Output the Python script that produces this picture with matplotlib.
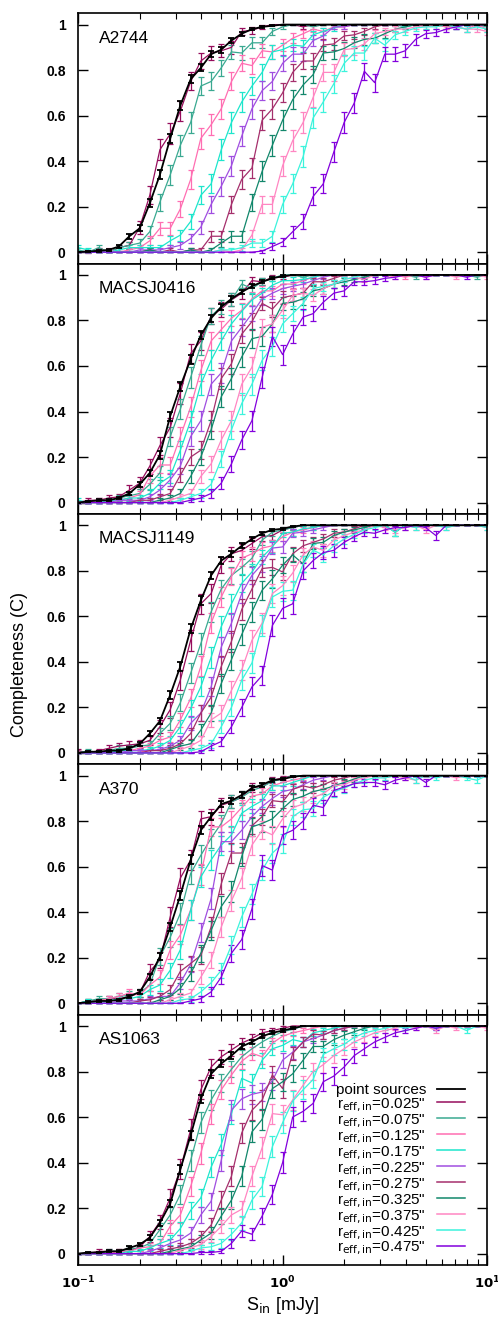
import numpy as np
import matplotlib
matplotlib.use('Agg')
import matplotlib.pyplot as plt
from matplotlib.lines import Line2D
from matplotlib.ticker import FuncFormatter

plt.rcParams['font.family'] = ['Liberation Sans', 'DejaVu Sans']
plt.rcParams['mathtext.default'] = 'regular'

# input flux grid (mJy)
S_in = [0.1, 0.112, 0.126, 0.141, 0.158, 0.178, 0.2, 0.224, 0.251, 0.282,
        0.316, 0.355, 0.398, 0.447, 0.501, 0.562, 0.631, 0.708, 0.794, 0.891,
        1.0, 1.12, 1.26, 1.41, 1.58, 1.78, 2.0, 2.24, 2.51, 2.82,
        3.16, 3.55, 3.98, 4.47, 5.01, 5.62, 6.31, 7.08, 7.94, 8.91, 10.0]

labels = ['point sources',
          'r$_{\\rm eff,in}$=0.025"', 'r$_{\\rm eff,in}$=0.075"', 'r$_{\\rm eff,in}$=0.125"',
          'r$_{\\rm eff,in}$=0.175"', 'r$_{\\rm eff,in}$=0.225"', 'r$_{\\rm eff,in}$=0.275"',
          'r$_{\\rm eff,in}$=0.325"', 'r$_{\\rm eff,in}$=0.375"', 'r$_{\\rm eff,in}$=0.425"',
          'r$_{\\rm eff,in}$=0.475"']
colors = ['black', '#960d5c', '#3aa991', '#ff6eb2', '#1de6cc', '#a04ee0',
          '#a52f6c', '#12876b', '#ff86c2', '#3cf3dc', '#8300dd']
# number of injected sources per flux bin (sets the binomial error bars)
n_inj = [600, 120, 120, 120, 120, 120, 120, 120, 120, 120, 120]

# ---------------- A2744
a2744_point = [0, 0.003, 0.006, 0.01, 0.025, 0.07, 0.105, 0.215, 0.34, 0.50,
               0.645, 0.76, 0.81, 0.87, 0.89, 0.93, 0.96, 0.98, 0.99, 0.995,
               1, 1, 1, 1, 1, 1, 1, 1, 1, 1,
               1, 1, 1, 1, 1, 1, 1, 1, 1, 1, 1]
a2744_r025 = [0, 0.005, 0.01, 0, 0.02, 0.03, 0.11, 0.25, 0.45, 0.52,
              0.62, 0.75, 0.84, 0.875, 0.885, 0.90, 0.97, 0.975, 0.99, 1,
              1, 1, 0.99, 1, 1, 1, 1, 1, 1, 1,
              1, 1, 1, 1, 1, 1, 1, 1, 1, 1, 1]
a2744_r075 = [0.01, 0, 0.02, 0, 0.02, 0.03, 0.04, 0.09, 0.22, 0.34,
              0.47, 0.57, 0.73, 0.75, 0.81, 0.88, 0.875, 0.92, 0.92, 0.97,
              0.99, 1, 1, 0.99, 1, 1, 1, 1, 1, 1,
              1, 1, 1, 1, 1, 1, 0.99, 1, 1, 1, 0.99]
a2744_r125 = [0, 0, 0, 0.01, 0, 0.01, 0.02, 0.05, 0.105, 0.105,
              0.19, 0.32, 0.50, 0.56, 0.63, 0.75, 0.83, 0.82, 0.885, 0.88,
              0.91, 0.94, 0.96, 0.98, 0.97, 0.99, 0.99, 1, 1, 1,
              1, 1, 0.99, 1, 0.99, 1, 0.99, 0.99, 0.98, 1, 0.98]
a2744_r175 = [0.02, 0.01, 0, 0, 0.01, 0.02, 0.02, 0.02, 0.02, 0.05,
              0.075, 0.135, 0.25, 0.30, 0.45, 0.57, 0.66, 0.73, 0.79, 0.88,
              0.89, 0.91, 0.905, 0.955, 0.97, 0.985, 1, 1, 1, 1,
              1, 1, 0.99, 1, 1, 1, 1, 0.99, 1, 1, 1]
a2744_r225 = [0, 0, 0, 0, 0, 0, 0.01, 0.01, 0.01, 0.02,
              0.03, 0.06, 0.11, 0.21, 0.29, 0.38, 0.51, 0.63, 0.71, 0.75,
              0.83, 0.87, 0.87, 0.93, 0.95, 0.99, 0.99, 1, 1, 1,
              1, 1, 1, 1, 1, 1, 1, 1, 1, 1, 1]
a2744_r275 = [0, 0, 0, 0, 0, 0, 0, 0.01, 0, 0.01,
              0, 0.01, 0.01, 0.07, 0.07, 0.21, 0.32, 0.37, 0.58, 0.63,
              0.70, 0.79, 0.84, 0.84, 0.91, 0.915, 0.95, 0.955, 0.97, 0.99,
              1, 1, 1, 1, 1, 1, 1, 1, 1, 1, 1]
a2744_r325 = [0, 0, 0, 0, 0, 0, 0, 0.01, 0, 0,
              0, 0.01, 0, 0.01, 0.04, 0.07, 0.07, 0.22, 0.355, 0.47,
              0.58, 0.67, 0.735, 0.78, 0.875, 0.88, 0.895, 0.92, 0.935, 0.94,
              0.96, 0.98, 0.99, 1, 1, 1, 1, 1, 1, 1, 1]
a2744_r375 = [0, 0, 0, 0, 0, 0, 0, 0, 0, 0,
              0, 0, 0, 0, 0.01, 0, 0.01, 0.075, 0.21, 0.21,
              0.38, 0.49, 0.57, 0.68, 0.79, 0.79, 0.89, 0.895, 0.915, 0.96,
              0.97, 0.98, 0.98, 0.99, 1, 0.99, 1, 0.99, 0.98, 0.98, 0.97]
a2744_r425 = [0, 0, 0, 0, 0, 0, 0, 0, 0, 0,
              0, 0, 0, 0, 0.01, 0.01, 0.02, 0.04, 0.04, 0.07,
              0.21, 0.30, 0.42, 0.59, 0.66, 0.74, 0.83, 0.875, 0.875, 0.94,
              0.91, 0.955, 0.97, 0.985, 0.99, 0.99, 1, 0.99, 0.98, 0.99, 0.98]
a2744_r475 = [0, 0, 0, 0, 0, 0, 0, 0, 0, 0,
              0, 0, 0, 0, 0, 0, 0, 0, 0.005, 0.025,
              0.045, 0.09, 0.135, 0.245, 0.30, 0.44, 0.57, 0.655, 0.795, 0.745,
              0.87, 0.87, 0.885, 0.935, 0.96, 0.965, 0.98, 0.99, 1, 1, 1]

# ---------------- MACSJ0416
m0416_point = [0, 0.005, 0.01, 0.01, 0.02, 0.04, 0.08, 0.13, 0.21, 0.38,
               0.51, 0.63, 0.735, 0.81, 0.86, 0.895, 0.925, 0.95, 0.97, 0.985,
               0.995, 1, 1, 1, 1, 1, 1, 1, 1, 1,
               1, 1, 1, 1, 1, 1, 1, 1, 1, 1, 1]
m0416_r025 = [0, 0.01, 0.01, 0.02, 0.025, 0.055, 0.085, 0.16, 0.25, 0.33,
              0.48, 0.655, 0.71, 0.82, 0.85, 0.89, 0.92, 0.975, 0.97, 0.99,
              0.99, 1, 1, 1, 1, 1, 1, 1, 1, 1,
              1, 1, 1, 1, 1, 1, 1, 1, 1, 1, 1]
m0416_r075 = [0, 0, 0.01, 0.01, 0.02, 0.03, 0.04, 0.08, 0.13, 0.29,
              0.41, 0.55, 0.69, 0.82, 0.86, 0.89, 0.96, 0.94, 0.97, 0.985,
              1, 1, 0.99, 1, 1, 1, 1, 1, 1, 1,
              1, 1, 1, 0.99, 1, 1, 1, 1, 1, 0.99, 1]
m0416_r125 = [0, 0, 0.01, 0, 0.01, 0.02, 0.035, 0.115, 0.165, 0.165,
              0.29, 0.42, 0.58, 0.71, 0.76, 0.81, 0.845, 0.895, 0.93, 0.93,
              0.96, 0.96, 0.975, 0.99, 1, 1, 1, 1, 1, 1,
              1, 1, 0.99, 1, 1, 1, 1, 1, 1, 1, 1]
m0416_r175 = [0.01, 0, 0, 0.01, 0.01, 0.02, 0.02, 0.04, 0.085, 0.115,
              0.23, 0.36, 0.52, 0.625, 0.71, 0.785, 0.84, 0.89, 0.92, 0.955,
              0.975, 0.975, 0.98, 0.99, 1, 1, 1, 1, 1, 1,
              1, 1, 1, 1, 1, 1, 1, 1, 1, 1, 1]
m0416_r225 = [0, 0, 0, 0, 0.01, 0.01, 0.01, 0.025, 0.055, 0.10,
              0.16, 0.29, 0.36, 0.52, 0.57, 0.71, 0.77, 0.83, 0.895, 0.92,
              0.94, 0.95, 0.96, 0.975, 0.99, 1, 1, 1, 1, 1,
              1, 1, 1, 1, 1, 1, 1, 1, 1, 1, 1]
m0416_r275 = [0, 0, 0, 0, 0, 0, 0.01, 0.01, 0.025, 0.04,
              0.12, 0.20, 0.23, 0.36, 0.545, 0.61, 0.74, 0.795, 0.875, 0.85,
              0.90, 0.91, 0.92, 0.97, 0.97, 0.985, 1, 1, 1, 1,
              1, 1, 1, 1, 1, 1, 1, 1, 1, 1, 1]
m0416_r325 = [0, 0, 0, 0, 0, 0, 0, 0, 0.01, 0.02,
              0.04, 0.115, 0.20, 0.32, 0.465, 0.545, 0.64, 0.72, 0.73, 0.785,
              0.875, 0.88, 0.895, 0.93, 0.94, 0.96, 0.97, 0.98, 0.99, 1,
              1, 1, 1, 1, 1, 1, 1, 1, 1, 1, 1]
m0416_r375 = [0, 0, 0, 0, 0, 0, 0, 0, 0, 0.01,
              0.025, 0.04, 0.115, 0.17, 0.275, 0.36, 0.52, 0.595, 0.77, 0.785,
              0.845, 0.91, 0.92, 0.91, 0.94, 0.96, 0.98, 0.99, 0.98, 1,
              1, 0.99, 1, 1, 0.99, 1, 1, 0.99, 1, 1, 0.99]
m0416_r425 = [0, 0, 0, 0, 0, 0, 0, 0, 0, 0,
              0.01, 0.025, 0.04, 0.08, 0.19, 0.32, 0.435, 0.52, 0.625, 0.685,
              0.785, 0.83, 0.875, 0.94, 0.95, 0.96, 0.98, 0.99, 1, 1,
              1, 1, 1, 1, 1, 1, 1, 1, 1, 1, 1]
m0416_r475 = [0, 0, 0, 0, 0, 0, 0, 0, 0, 0,
              0, 0.01, 0.02, 0.04, 0.085, 0.17, 0.275, 0.36, 0.55, 0.73,
              0.65, 0.74, 0.815, 0.83, 0.88, 0.92, 0.93, 0.97, 0.97, 0.975,
              0.985, 0.99, 1, 1, 0.99, 1, 1, 1, 0.99, 1, 1]

# ---------------- MACSJ1149
m1149_point = [0, 0.005, 0.005, 0.01, 0.01, 0.02, 0.04, 0.085, 0.14, 0.255,
               0.38, 0.545, 0.67, 0.78, 0.845, 0.875, 0.91, 0.94, 0.965, 0.98,
               0.985, 0.995, 1, 1, 1, 1, 1, 1, 1, 1,
               1, 1, 1, 1, 1, 1, 1, 1, 1, 1, 1]
m1149_r025 = [0.01, 0, 0.01, 0.02, 0.03, 0.035, 0.04, 0.055, 0.115, 0.19,
              0.32, 0.495, 0.655, 0.70, 0.825, 0.875, 0.89, 0.92, 0.95, 0.955,
              0.98, 0.99, 1, 1, 1, 1, 1, 1, 1, 1,
              1, 1, 1, 1, 1, 1, 1, 1, 1, 1, 1]
m1149_r075 = [0, 0.01, 0, 0.01, 0.02, 0.02, 0.03, 0.035, 0.085, 0.13,
              0.22, 0.35, 0.48, 0.62, 0.72, 0.78, 0.815, 0.855, 0.935, 0.97,
              0.98, 0.99, 1, 1, 1, 1, 1, 1, 1, 1,
              1, 1, 1, 1, 1, 1, 1, 1, 1, 1, 1]
m1149_r125 = [0, 0, 0, 0.01, 0.01, 0.01, 0.02, 0.03, 0.055, 0.07,
              0.145, 0.24, 0.38, 0.57, 0.685, 0.775, 0.855, 0.875, 0.90, 0.91,
              0.95, 0.97, 0.98, 0.99, 1, 1, 1, 1, 1, 1,
              1, 1, 1, 0.99, 1, 1, 1, 1, 1, 1, 1]
m1149_r175 = [0, 0, 0, 0, 0.01, 0.01, 0.01, 0.015, 0.03, 0.055,
              0.115, 0.195, 0.29, 0.42, 0.555, 0.655, 0.745, 0.795, 0.86, 0.905,
              0.965, 0.97, 0.985, 0.99, 1, 1, 1, 1, 1, 1,
              1, 1, 1, 1, 1, 1, 1, 1, 1, 1, 1]
m1149_r225 = [0, 0, 0, 0, 0, 0.01, 0.01, 0.01, 0.015, 0.03,
              0.055, 0.13, 0.175, 0.29, 0.465, 0.57, 0.70, 0.78, 0.83, 0.90,
              0.905, 0.965, 0.97, 0.98, 0.99, 1, 1, 1, 1, 1,
              1, 1, 1, 1, 1, 1, 1, 1, 1, 1, 1]
m1149_r275 = [0, 0, 0, 0, 0, 0, 0, 0.01, 0.01, 0.02,
              0.04, 0.085, 0.175, 0.245, 0.38, 0.49, 0.63, 0.72, 0.81, 0.815,
              0.795, 0.875, 0.91, 0.925, 0.94, 0.965, 0.97, 0.985, 1, 1,
              1, 1, 1, 1, 1, 1, 1, 1, 1, 1, 1]
m1149_r325 = [0, 0, 0, 0, 0, 0, 0, 0, 0, 0.015,
              0.03, 0.04, 0.10, 0.175, 0.305, 0.41, 0.52, 0.62, 0.715, 0.765,
              0.825, 0.87, 0.83, 0.92, 0.925, 0.955, 0.97, 0.98, 0.99, 1,
              1, 0.97, 1, 1, 1, 1, 1, 1, 1, 1, 1]
m1149_r375 = [0, 0, 0, 0, 0, 0, 0, 0, 0, 0,
              0.015, 0.03, 0.055, 0.145, 0.175, 0.275, 0.365, 0.495, 0.57, 0.70,
              0.735, 0.79, 0.87, 0.905, 0.89, 0.935, 0.955, 0.97, 0.98, 1,
              0.99, 0.98, 0.99, 1, 0.98, 1, 0.99, 1, 1, 1, 0.99]
m1149_r425 = [0, 0, 0, 0, 0, 0, 0, 0, 0, 0,
              0, 0.01, 0.02, 0.04, 0.115, 0.20, 0.32, 0.395, 0.56, 0.685,
              0.71, 0.715, 0.83, 0.89, 0.87, 0.91, 0.94, 0.96, 0.98, 0.99,
              1, 0.97, 1, 0.99, 1, 1, 0.99, 1, 1, 1, 0.99]
m1149_r475 = [0, 0, 0, 0, 0, 0, 0, 0, 0, 0,
              0, 0, 0.005, 0.03, 0.05, 0.115, 0.20, 0.29, 0.34, 0.56,
              0.635, 0.655, 0.80, 0.845, 0.88, 0.89, 0.925, 0.95, 0.97, 0.965,
              0.98, 0.99, 0.99, 1, 0.99, 0.955, 1, 1, 1, 1, 1]

# ---------------- A370
a370_point = [0, 0.005, 0.01, 0.01, 0.015, 0.03, 0.05, 0.115, 0.205, 0.335,
              0.475, 0.63, 0.76, 0.82, 0.875, 0.89, 0.915, 0.945, 0.96, 0.98,
              0.985, 0.995, 1, 1, 1, 1, 1, 1, 1, 1,
              1, 1, 1, 1, 1, 1, 1, 1, 1, 1, 1]
a370_r025 = [0, 0.01, 0.01, 0.02, 0.02, 0.03, 0.045, 0.14, 0.19, 0.38,
             0.55, 0.63, 0.81, 0.82, 0.87, 0.885, 0.905, 0.95, 0.95, 0.98,
             0.99, 1, 1, 1, 1, 1, 1, 1, 1, 1,
             1, 1, 1, 1, 1, 1, 1, 1, 1, 1, 1]
a370_r075 = [0, 0.01, 0.02, 0.02, 0.03, 0.035, 0.045, 0.08, 0.205, 0.29,
             0.395, 0.57, 0.65, 0.725, 0.79, 0.885, 0.905, 0.935, 0.95, 0.975,
             0.985, 1, 1, 1, 1, 1, 1, 1, 1, 1,
             1, 1, 1, 1, 1, 1, 1, 1, 1, 1, 1]
a370_r125 = [0, 0, 0.01, 0.02, 0.03, 0.045, 0.035, 0.08, 0.115, 0.235,
             0.30, 0.41, 0.565, 0.775, 0.775, 0.81, 0.86, 0.91, 0.92, 0.955,
             0.97, 0.98, 0.99, 1, 1, 1, 1, 1, 1, 1,
             1, 1, 1, 1, 1, 1, 1, 1, 1, 1, 1]
a370_r175 = [0, 0.01, 0, 0.01, 0.02, 0.02, 0.03, 0.06, 0.08, 0.145,
             0.235, 0.41, 0.555, 0.63, 0.695, 0.74, 0.835, 0.865, 0.89, 0.955,
             0.955, 0.97, 0.985, 1, 1, 1, 1, 1, 1, 1,
             1, 1, 1, 1, 1, 1, 1, 1, 1, 1, 1]
a370_r225 = [0, 0, 0, 0, 0.01, 0.01, 0.01, 0.02, 0.03, 0.03,
             0.09, 0.17, 0.31, 0.46, 0.71, 0.71, 0.76, 0.82, 0.865, 0.90,
             0.93, 0.94, 0.96, 0.98, 0.99, 1, 1, 1, 1, 1,
             1, 1, 1, 1, 1, 1, 1, 1, 1, 1, 1]
a370_r275 = [0, 0, 0, 0, 0, 0, 0.01, 0.015, 0.03, 0.06,
             0.14, 0.175, 0.21, 0.335, 0.525, 0.66, 0.66, 0.78, 0.82, 0.89,
             0.885, 0.94, 0.955, 0.945, 0.96, 0.98, 0.99, 1, 1, 1,
             1, 1, 1, 1, 1, 1, 1, 1, 1, 1, 1]
a370_r325 = [0, 0, 0, 0, 0, 0, 0, 0, 0.015, 0.03,
             0.065, 0.13, 0.22, 0.32, 0.425, 0.49, 0.645, 0.775, 0.79, 0.81,
             0.855, 0.895, 0.91, 0.93, 0.94, 0.955, 0.97, 0.985, 1, 1,
             1, 1, 1, 1, 1, 1, 1, 1, 1, 1, 1]
a370_r375 = [0, 0, 0, 0, 0, 0, 0, 0, 0, 0.015,
             0.03, 0.045, 0.115, 0.19, 0.335, 0.45, 0.55, 0.695, 0.76, 0.74,
             0.81, 0.86, 0.875, 0.905, 0.92, 0.955, 0.96, 0.98, 0.99, 1,
             0.99, 1, 0.99, 0.98, 1, 1, 1, 0.99, 1, 1, 1]
a370_r425 = [0, 0, 0, 0, 0, 0, 0, 0, 0, 0,
             0.015, 0.02, 0.05, 0.09, 0.145, 0.255, 0.38, 0.48, 0.585, 0.66,
             0.70, 0.82, 0.85, 0.855, 0.905, 0.93, 0.945, 0.965, 0.98, 0.99,
             0.99, 1, 1, 0.98, 1, 0.99, 1, 1, 0.99, 0.98, 1]
a370_r475 = [0, 0, 0, 0, 0, 0, 0, 0, 0, 0,
             0, 0.01, 0.02, 0.05, 0.115, 0.22, 0.28, 0.415, 0.605, 0.585,
             0.74, 0.76, 0.80, 0.87, 0.86, 0.935, 0.95, 0.965, 0.97, 0.97,
             0.96, 0.98, 0.99, 1, 0.97, 1, 1, 1, 1, 1, 1]

# ---------------- AS1063
as1063_point = [0, 0.005, 0.005, 0.01, 0.01, 0.025, 0.04, 0.07, 0.135, 0.22,
                0.37, 0.52, 0.68, 0.79, 0.835, 0.87, 0.91, 0.93, 0.955, 0.97,
                0.98, 0.99, 1, 1, 1, 1, 1, 1, 1, 1,
                1, 1, 1, 1, 1, 1, 1, 1, 1, 1, 1]
as1063_r025 = [0, 0, 0.01, 0.01, 0.01, 0.01, 0.03, 0.075, 0.14, 0.245,
               0.37, 0.545, 0.72, 0.82, 0.865, 0.895, 0.925, 0.945, 0.97, 0.98,
               0.99, 1, 1, 1, 1, 1, 1, 1, 1, 1,
               1, 1, 1, 1, 1, 1, 1, 1, 1, 1, 1]
as1063_r075 = [0, 0, 0, 0.01, 0.01, 0.02, 0.025, 0.045, 0.105, 0.17,
               0.26, 0.41, 0.575, 0.675, 0.75, 0.81, 0.865, 0.90, 0.93, 0.955,
               0.975, 0.985, 1, 1, 1, 1, 1, 1, 1, 1,
               1, 1, 1, 1, 1, 1, 1, 1, 1, 1, 1]
as1063_r125 = [0, 0, 0, 0, 0.01, 0.01, 0.025, 0.03, 0.045, 0.12,
               0.17, 0.295, 0.44, 0.615, 0.72, 0.785, 0.845, 0.88, 0.865, 0.925,
               0.955, 0.97, 0.98, 0.99, 1, 1, 1, 1, 1, 1,
               1, 1, 1, 1, 1, 1, 1, 1, 1, 1, 1]
as1063_r175 = [0, 0, 0, 0, 0, 0.01, 0.01, 0.025, 0.045, 0.06,
               0.11, 0.19, 0.245, 0.38, 0.48, 0.615, 0.77, 0.75, 0.85, 0.90,
               0.915, 0.94, 0.93, 0.97, 0.98, 0.99, 1, 1, 1, 1,
               1, 1, 1, 1, 1, 1, 1, 1, 1, 1, 1]
as1063_r225 = [0, 0, 0, 0, 0, 0, 0, 0.01, 0.025, 0.045,
               0.06, 0.09, 0.17, 0.23, 0.41, 0.63, 0.68, 0.70, 0.71, 0.76,
               0.85, 0.885, 0.93, 0.945, 0.96, 0.98, 0.99, 1, 1, 1,
               1, 1, 1, 1, 1, 1, 1, 1, 1, 1, 1]
as1063_r275 = [0, 0, 0, 0, 0, 0, 0, 0, 0.01, 0.02,
               0.03, 0.045, 0.075, 0.125, 0.235, 0.34, 0.53, 0.63, 0.675, 0.785,
               0.725, 0.88, 0.93, 0.965, 0.96, 0.98, 0.99, 1, 1, 1,
               1, 1, 1, 1, 1, 1, 1, 1, 1, 1, 1]
as1063_r325 = [0, 0, 0, 0, 0, 0, 0, 0, 0, 0.01,
               0.02, 0.03, 0.06, 0.09, 0.165, 0.235, 0.34, 0.535, 0.59, 0.725,
               0.755, 0.79, 0.85, 0.91, 0.91, 0.94, 0.96, 0.975, 0.99, 1,
               1, 1, 1, 1, 1, 1, 1, 1, 1, 1, 1]
as1063_r375 = [0, 0, 0, 0, 0, 0, 0, 0, 0, 0,
               0.015, 0.025, 0.04, 0.075, 0.12, 0.17, 0.195, 0.34, 0.465, 0.615,
               0.61, 0.675, 0.74, 0.80, 0.83, 0.87, 0.90, 0.93, 0.95, 0.97,
               0.98, 0.99, 1, 0.99, 1, 0.98, 1, 0.99, 1, 1, 0.99]
as1063_r425 = [0, 0, 0, 0, 0, 0, 0, 0, 0, 0,
               0, 0.01, 0.025, 0.03, 0.045, 0.085, 0.135, 0.235, 0.295, 0.47,
               0.575, 0.67, 0.72, 0.765, 0.875, 0.90, 0.92, 0.95, 0.97, 0.98,
               0.99, 1, 0.99, 1, 1, 0.99, 1, 1, 0.98, 1, 1]
as1063_r475 = [0, 0, 0, 0, 0, 0, 0, 0, 0, 0,
               0, 0, 0.005, 0.005, 0.01, 0.045, 0.10, 0.085, 0.165, 0.26,
               0.40, 0.60, 0.625, 0.66, 0.755, 0.78, 0.82, 0.87, 0.90, 0.93,
               0.95, 0.97, 0.98, 0.99, 1, 0.99, 1, 1, 1, 1, 1]

panels = [
    ('A2744', [a2744_point, a2744_r025, a2744_r075, a2744_r125, a2744_r175, a2744_r225,
               a2744_r275, a2744_r325, a2744_r375, a2744_r425, a2744_r475]),
    ('MACSJ0416', [m0416_point, m0416_r025, m0416_r075, m0416_r125, m0416_r175, m0416_r225,
                   m0416_r275, m0416_r325, m0416_r375, m0416_r425, m0416_r475]),
    ('MACSJ1149', [m1149_point, m1149_r025, m1149_r075, m1149_r125, m1149_r175, m1149_r225,
                   m1149_r275, m1149_r325, m1149_r375, m1149_r425, m1149_r475]),
    ('A370', [a370_point, a370_r025, a370_r075, a370_r125, a370_r175, a370_r225,
              a370_r275, a370_r325, a370_r375, a370_r425, a370_r475]),
    ('AS1063', [as1063_point, as1063_r025, as1063_r075, as1063_r125, as1063_r175, as1063_r225,
                as1063_r275, as1063_r325, as1063_r375, as1063_r425, as1063_r475]),
]


def xfmt(v, p):
    e = int(round(np.log10(v)))
    return '$\\mathbf{10^{%d}}$' % e


fig, axes = plt.subplots(5, 1, figsize=(4.98, 13.21), dpi=100, sharex=True)
fig.subplots_adjust(left=0.157, right=0.978, top=0.990, bottom=0.0424, hspace=0)

for ax, (name, curves) in zip(axes, panels):
    for i in list(range(1, 11)) + [0]:
        c = np.array(curves[i], dtype=float)
        err = np.sqrt(c * (1 - c) / n_inj[i])
        lw = 1.3 if i == 0 else 0.9
        ax.errorbar(S_in, c, yerr=err, color=colors[i], lw=lw, elinewidth=lw,
                    capsize=2.4, capthick=lw, zorder=3 if i == 0 else 2)
    ax.set_xscale('log')
    ax.set_xlim(0.1, 10)
    ax.set_ylim(-0.05, 1.05)
    ax.set_yticks([0, 0.2, 0.4, 0.6, 0.8, 1])
    ax.yaxis.set_major_formatter(FuncFormatter(lambda v, p: '%g' % v))
    ax.xaxis.set_major_formatter(FuncFormatter(xfmt))
    ax.tick_params(which='both', direction='in', top=True, right=True)
    ax.tick_params(axis='y', labelsize=10, pad=9)
    ax.tick_params(axis='x', labelsize=9.5, pad=7)
    ax.tick_params(which='major', length=7, width=1)
    ax.tick_params(which='minor', length=4, width=0.8)
    for sp in ax.spines.values():
        sp.set_linewidth(1.2)
    for t in ax.get_yticklabels():
        t.set_fontweight('bold')
    ax.text(0.05, 0.9, name, transform=ax.transAxes, fontsize=12.5, va='center')

handles = [Line2D([], [], color=c, lw=1.3 if i == 0 else 1.1) for i, c in enumerate(colors)]
axes[4].legend(handles, labels, loc='lower right', bbox_to_anchor=(0.946, 0.034),
               frameon=False, markerfirst=False, fontsize=11, handlelength=1.85,
               handletextpad=0.7, labelspacing=-0.07, borderpad=0, borderaxespad=0)

fig.text(0.040, 0.497, 'Completeness (C)', rotation=90, va='center', ha='center', fontsize=13)
fig.text(0.567, 0.012, 'S$_{\\rm in}$ [mJy]', ha='center', va='center', fontsize=13)

fig.savefig('out.png', dpi=100)
